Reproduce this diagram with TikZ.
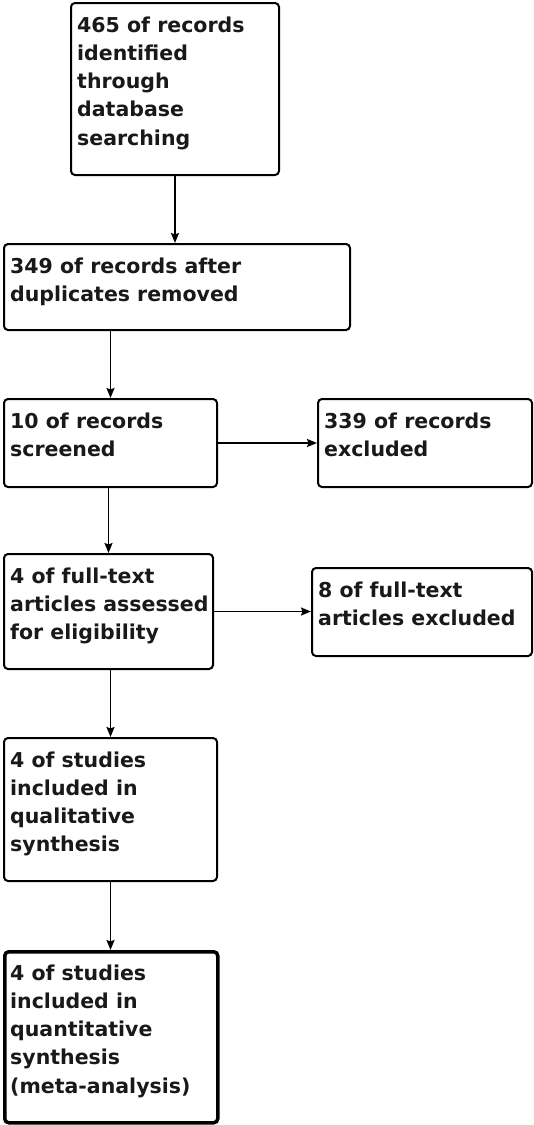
\documentclass[tikz,border=0pt]{standalone}
\usepackage{fontspec}
\setmainfont{DejaVu Sans}
\usetikzlibrary{arrows.meta,calc}
\begin{document}
\begin{tikzpicture}[x=1pt,y=-1pt,
  box/.style={draw, line width=2pt, rounded corners=4pt, inner sep=0pt, anchor=north west},
  finalbox/.style={box, line width=3.5pt},
  txt/.style={inner sep=0pt, anchor=base west, align=left, text=black!90,
    font=\fontsize{20.5}{28.3}\selectfont\bfseries},
  arr/.style={line width=1.8pt, -{Stealth[length=10pt,width=8pt,inset=1.5pt]}}]
\useasboundingbox (0,0) rectangle (534,1125);
\fill[white] (0,0) rectangle (534,1125);
% boxes
\node[box, minimum width=208pt, minimum height=172pt] (b1) at (70,2) {};
\node[box, minimum width=346pt, minimum height=86pt] (b2) at (3,243) {};
\node[box, minimum width=213pt, minimum height=88pt] (b3) at (3,398) {};
\node[box, minimum width=214pt, minimum height=88pt] (b4) at (317,398) {};
\node[box, minimum width=209pt, minimum height=115pt] (b5) at (3,553) {};
\node[box, minimum width=220pt, minimum height=88pt] (b6) at (311,567) {};
\node[box, minimum width=213pt, minimum height=143pt] (b7) at (3,737) {};
\node[finalbox, minimum width=213pt, minimum height=171pt] (b8) at (3,950) {};
% texts (base anchor = baseline of last line)
\node[txt] (t1) at ($(b1.north west)+(7,143.2)$) {465 of records\\identified\\through\\database\\searching};
\node[txt] (t2) at ($(b2.north west)+(7,58.3)$) {349 of records after\\duplicates removed};
\node[txt] (t3) at ($(b3.north west)+(7,58.3)$) {10 of records\\screened};
\node[txt] (t4) at ($(b4.north west)+(7,58.3)$) {339 of records\\excluded};
\node[txt] (t5) at ($(b5.north west)+(7,86.6)$) {4 of full-text\\articles assessed\\for eligibility};
\node[txt] (t6) at ($(b6.north west)+(7,58.3)$) {8 of full-text\\articles excluded};
\node[txt] (t7) at ($(b7.north west)+(7,114.9)$) {4 of studies\\included in\\qualitative\\synthesis};
\node[txt] (t8) at ($(b8.north west)+(7,143.2)$) {4 of studies\\included in\\quantitative\\synthesis\\(meta-analysis)};
% connectors
\draw[arr] (b1.south) -- (b1.south |- b2.north);
\draw[arr] (b3.north |- b2.south) -- (b3.north);
\draw[arr] (b3.east) -- (b4.west);
\draw[arr] (b5.north |- b3.south) -- (b5.north);
\draw[arr] (b5.east) -- (b5.east -| b6.west);
\draw[arr] (b7.north |- b5.south) -- (b7.north);
\draw[arr] (b7.south) -- (b7.south |- b8.north);
\end{tikzpicture}
\end{document}
